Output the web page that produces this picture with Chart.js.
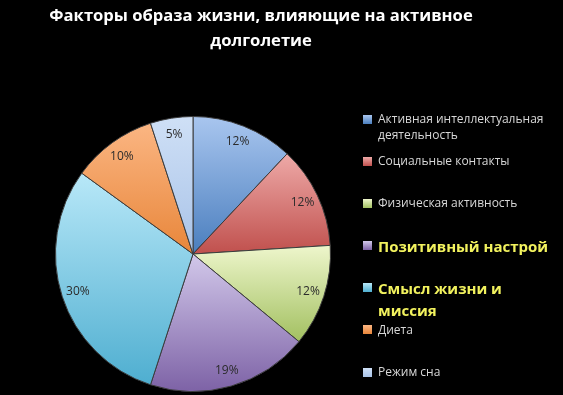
<!DOCTYPE html>
<html>
<head>
<meta charset="utf-8">
<script src="https://cdn.jsdelivr.net/npm/chart.js@4.4.1/dist/chart.umd.min.js"></script>
<style>
  body { margin: 0; background: #000; }
  #wrap { position: relative; width: 563px; height: 395px; background: #000; overflow: hidden; }
  #legend { position: absolute; left: 363px; top: 111px; width: 200px; font-family: "Open Sans", sans-serif; }
  .row { position: relative; height: 42.2px; }
  .sw { position: absolute; left: 0; top: 3.5px; width: 9px; height: 9px; }
  .txt { position: absolute; left: 15px; width: 185px; color: #d8d8d8; font-size: 12px; line-height: 16px; }
  .txt.hi { top: -3px; color: #f2f25e; font-size: 15px; font-weight: bold; line-height: 22px; }
</style>
</head>
<body>
<div id="wrap">
  <canvas id="pie"></canvas>
  <div id="legend"></div>
</div>
<script>
// chart data
const titleLines = ["Факторы образа жизни, влияющие на активное", "долголетие"];
const factors = [
  "Активная интеллектуальная деятельность",
  "Социальные контакты",
  "Физическая активность",
  "Позитивный настрой",
  "Смысл жизни и миссия",
  "Диета",
  "Режим сна"
];
const shares = [12, 12, 12, 19, 30, 10, 5];

// colours (light top -> base bottom of each slice)
const lightColors = ["#a9c6ef", "#eeaaa8", "#eef6cc", "#d2c8ea", "#b8e8f8", "#fbb683", "#cfe0f6"];
const baseColors = ["#4a7ebe", "#c0504d", "#a2c060", "#7d62a6", "#4eaed0", "#e8863a", "#a9c3e8"];
const emphasized = [3, 4];

function sliceGradient(ctx) {
  const i = ctx.dataIndex;
  const chart = ctx.chart;
  const area = chart.chartArea;
  if (!area || i === undefined) return baseColors[i] || baseColors[0];
  const cx = (area.left + area.right) / 2;
  const cy = (area.top + area.bottom) / 2;
  const r = Math.min(area.right - area.left, area.bottom - area.top) / 2;
  const total = shares.reduce((a, b) => a + b, 0);
  let before = 0;
  for (let k = 0; k < i; k++) before += shares[k];
  const a0 = -Math.PI / 2 + before / total * 2 * Math.PI;
  const a1 = a0 + shares[i] / total * 2 * Math.PI;
  const ys = [cy, cy + r * Math.sin(a0), cy + r * Math.sin(a1)];
  [Math.PI / 2, 3 * Math.PI / 2].forEach(a => {
    if (a > a0 && a < a1) ys.push(cy + r * Math.sin(a));
  });
  const g = chart.ctx.createLinearGradient(0, Math.min(...ys), 0, Math.max(...ys));
  g.addColorStop(0, lightColors[i]);
  g.addColorStop(1, baseColors[i]);
  return g;
}

// percent labels inside the slices
const pctLabels = {
  id: "pctLabels",
  afterDatasetsDraw(chart) {
    const c = chart.ctx;
    const meta = chart.getDatasetMeta(0);
    c.save();
    c.font = "12px 'Open Sans', sans-serif";
    c.fillStyle = "#2b2b2b";
    c.textAlign = "center";
    c.textBaseline = "middle";
    meta.data.forEach((arc, i) => {
      const mid = (arc.startAngle + arc.endAngle) / 2;
      const rr = arc.outerRadius * 0.88;
      c.fillText(shares[i] + "%", arc.x + Math.cos(mid) * rr, arc.y + Math.sin(mid) * rr);
    });
    c.restore();
  }
};

// title across the whole canvas (the built-in one gets squeezed by the side padding)
const wideTitle = {
  id: "wideTitle",
  afterDraw(chart) {
    const c = chart.ctx;
    c.save();
    c.font = "bold 16.6px 'Open Sans', sans-serif";
    c.fillStyle = "#ffffff";
    c.textAlign = "center";
    c.textBaseline = "middle";
    titleLines.forEach((line, k) => c.fillText(line, 261, 16 + k * 25));
    c.restore();
  }
};

new Chart(document.getElementById("pie"), {
  type: "pie",
  data: {
    labels: factors,
    datasets: [{
      data: shares,
      backgroundColor: sliceGradient,
      borderColor: "#3c3c3c",
      borderWidth: 1
    }]
  },
  options: {
    responsive: true,
    maintainAspectRatio: false,
    animation: false,
    events: [],
    layout: { padding: { top: 116, left: 55, right: 232, bottom: 3 } },
    plugins: {
      legend: { display: false },
      tooltip: { enabled: false },
      title: { display: false }
    }
  },
  plugins: [pctLabels, wideTitle]
});

// html legend built from the same arrays
const legend = document.getElementById("legend");
factors.forEach((name, i) => {
  const row = document.createElement("div");
  row.className = "row";
  const sw = document.createElement("div");
  sw.className = "sw";
  sw.style.background = "linear-gradient(" + lightColors[i] + ", " + baseColors[i] + ")";
  const txt = document.createElement("div");
  txt.className = emphasized.includes(i) ? "txt hi" : "txt";
  txt.textContent = name;
  row.appendChild(sw);
  row.appendChild(txt);
  legend.appendChild(row);
});
</script>
</body>
</html>
